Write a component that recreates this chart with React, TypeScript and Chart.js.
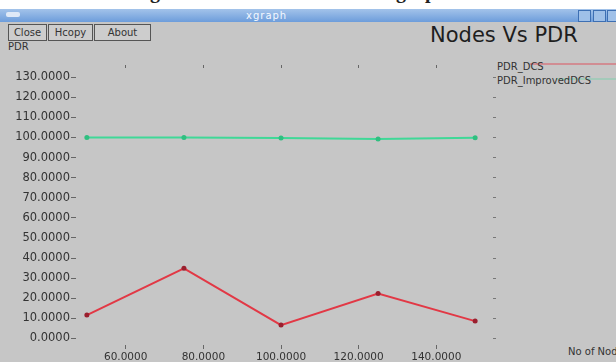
import React, { useEffect, useRef } from "react";
import { Chart, registerables } from "chart.js";

Chart.register(...registerables);

const nodes = [50, 75, 100, 125, 150];
const pdrDcs = [11.6, 34.9, 6.6, 22.3, 8.6];
const pdrImprovedDcs = [100, 100, 99.7, 99.3, 99.9];
const xTicks = [60, 80, 100, 120, 140];
const yTicks = [0, 10, 20, 30, 40, 50, 60, 70, 80, 90, 100, 110, 120, 130];
const seriesNames = ["PDR_DCS", "PDR_ImprovedDCS"];

const BG = "#c6c6c6";
const TEXT = "#333";
const RED = "#e23845";
const GREEN = "#3fd897";
const FONT = "DejaVu Sans";

export default function App() {
  const ref = useRef<HTMLCanvasElement | null>(null);

  useEffect(() => {
    document.body.style.margin = "0";
    const ctx = ref.current!.getContext("2d")!;
    const chart = new Chart(ctx, {
      type: "line",
      data: {
        datasets: [
          {
            label: seriesNames[0],
            data: nodes.map((x, i) => ({ x, y: pdrDcs[i] })),
            borderColor: RED,
            backgroundColor: "#9a1f2e",
            borderWidth: 2,
            pointRadius: 2.5,
            pointBorderWidth: 0,
            tension: 0,
          },
          {
            label: seriesNames[1],
            data: nodes.map((x, i) => ({ x, y: pdrImprovedDcs[i] })),
            borderColor: GREEN,
            backgroundColor: "#2fbf80",
            borderWidth: 2,
            pointRadius: 2.5,
            pointBorderWidth: 0,
            tension: 0,
          },
        ],
      },
      options: {
        responsive: false,
        animation: false,
        layout: { padding: { top: 68, right: 117, left: 0, bottom: 0 } },
        plugins: {
          legend: { display: false },
          title: { display: false },
          tooltip: { enabled: false },
        },
        scales: {
          x: {
            type: "linear",
            min: 47.2,
            max: 154.6,
            border: { display: false },
            grid: { drawOnChartArea: false, tickLength: 4, color: "#666" },
            afterBuildTicks: (s: any) => {
              s.ticks = xTicks.map((v) => ({ value: v }));
            },
            afterFit: (s: any) => {
              s.height = 17;
            },
            ticks: {
              padding: 2,
              color: TEXT,
              font: { family: FONT, size: 10.5 },
              callback: (v: any) => Number(v).toFixed(4),
              maxRotation: 0,
            },
          },
          xTop: {
            type: "linear",
            position: "top",
            min: 47.2,
            max: 154.6,
            border: { display: false },
            grid: { drawOnChartArea: false, tickLength: 3, color: "#666" },
            afterBuildTicks: (s: any) => {
              s.ticks = xTicks.map((v) => ({ value: v }));
            },
            afterFit: (s: any) => {
              s.height = 0;
            },
            ticks: { display: false },
          },
          y: {
            type: "linear",
            min: -3.3,
            max: 134.6,
            border: { display: false },
            grid: { drawOnChartArea: false, tickLength: 5, color: "#666" },
            afterBuildTicks: (s: any) => {
              s.ticks = yTicks.map((v) => ({ value: v }));
            },
            afterFit: (s: any) => {
              s.width = 76;
            },
            ticks: {
              padding: 1,
              color: TEXT,
              font: { family: FONT, size: 11.5 },
              callback: (v: any) => Number(v).toFixed(4),
            },
          },
          yRight: {
            type: "linear",
            position: "right",
            min: -3.3,
            max: 134.6,
            border: { display: false },
            grid: { drawOnChartArea: false, tickLength: 3, color: "#777" },
            afterBuildTicks: (s: any) => {
              s.ticks = yTicks.map((v) => ({ value: v }));
            },
            afterFit: (s: any) => {
              s.width = 6;
            },
            ticks: { display: false },
          },
        },
      },
    });
    return () => chart.destroy();
  }, []);

  const btn: React.CSSProperties = {
    position: "absolute",
    top: 24,
    height: 15,
    border: "1px solid #555",
    background: "#cdcdcd",
    fontFamily: FONT,
    fontSize: 10,
    lineHeight: "15px",
    color: TEXT,
    textAlign: "center",
  };
  const winBtn: React.CSSProperties = {
    position: "absolute",
    top: 10,
    width: 11,
    height: 10,
    border: "1px solid #3d6fb3",
    background: "#9fc0e8",
  };

  return (
    <div
      style={{
        position: "fixed",
        left: 0,
        top: 0,
        width: 616,
        height: 362,
        background: BG,
        overflow: "hidden",
      }}
    >
      <div
        style={{
          position: "absolute",
          left: 0,
          top: 0,
          width: 616,
          height: 9,
          background: "#fff",
          overflow: "hidden",
          fontFamily: "Liberation Serif",
          fontWeight: "bold",
          fontSize: 20,
          color: "#222",
        }}
      >
        <span style={{ position: "absolute", left: 150, top: -20 }}>g</span>
        <span style={{ position: "absolute", left: 396, top: -20 }}>graph</span>
      </div>
      <div
        style={{
          position: "absolute",
          left: 0,
          top: 9,
          width: 616,
          height: 13,
          background: "linear-gradient(#a3c3ea, #6d9ddb)",
        }}
      >
        <div
          style={{
            position: "absolute",
            left: 6,
            top: 3,
            width: 14,
            height: 5,
            background: "#dfe9f7",
            borderRadius: 2,
          }}
        />
        <span
          style={{
            position: "absolute",
            left: 246,
            top: 0,
            fontFamily: FONT,
            fontSize: 10,
            lineHeight: "13px",
            color: "#f4f8ff",
            letterSpacing: 1,
          }}
        >
          xgraph
        </span>
      </div>
      <div style={{ ...winBtn, left: 578 }} />
      <div style={{ ...winBtn, left: 593 }} />
      <div style={{ ...winBtn, left: 607 }} />

      <div style={{ ...btn, left: 8, width: 37 }}>Close</div>
      <div style={{ ...btn, left: 48, width: 43 }}>Hcopy</div>
      <div style={{ ...btn, left: 94, width: 55 }}>About</div>

      <div
        style={{
          position: "absolute",
          left: 8,
          top: 41,
          fontFamily: FONT,
          fontSize: 10,
          color: TEXT,
        }}
      >
        PDR
      </div>
      <div
        style={{
          position: "absolute",
          left: 430,
          top: 23,
          fontFamily: FONT,
          fontSize: 21,
          color: "#1e1e1e",
          whiteSpace: "nowrap",
        }}
      >
        Nodes Vs PDR
      </div>

      <div
        style={{
          position: "absolute",
          left: 530,
          top: 63,
          width: 90,
          height: 2,
          background: RED,
          opacity: 0.4,
        }}
      />
      <div
        style={{
          position: "absolute",
          left: 556,
          top: 78,
          width: 70,
          height: 2,
          background: GREEN,
          opacity: 0.25,
        }}
      />
      <div
        style={{
          position: "absolute",
          left: 497,
          top: 61,
          fontFamily: FONT,
          fontSize: 10,
          color: TEXT,
          whiteSpace: "nowrap",
        }}
      >
        {seriesNames[0]}
      </div>
      <div
        style={{
          position: "absolute",
          left: 497,
          top: 75,
          fontFamily: FONT,
          fontSize: 10,
          color: TEXT,
          whiteSpace: "nowrap",
        }}
      >
        {seriesNames[1]}
      </div>

      <div
        style={{
          position: "absolute",
          left: 568,
          top: 346,
          fontFamily: FONT,
          fontSize: 10,
          color: TEXT,
          whiteSpace: "nowrap",
        }}
      >
        No of Nodes
      </div>

      <canvas
        ref={ref}
        width={616}
        height={362}
        style={{ position: "absolute", left: 0, top: 0, width: 616, height: 362 }}
      />
    </div>
  );
}
